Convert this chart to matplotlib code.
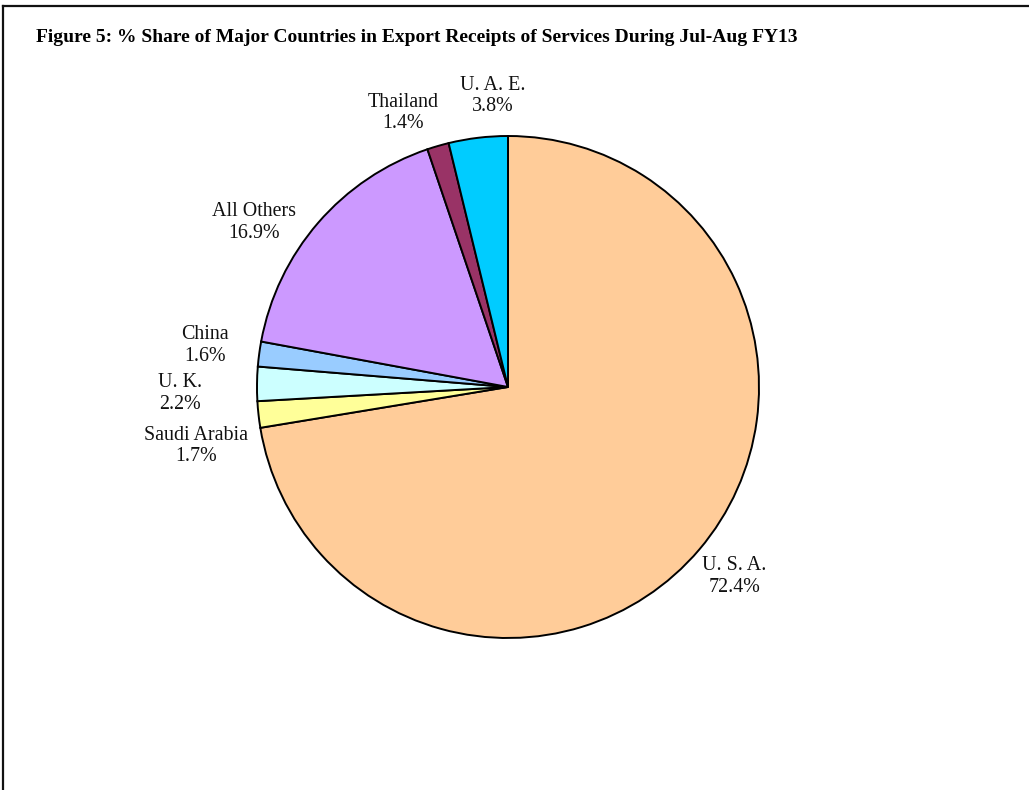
import numpy as np
import matplotlib.pyplot as plt
from matplotlib.lines import Line2D

countries = ['U. S. A.', 'Saudi Arabia', 'U. K.', 'China', 'All Others', 'Thailand', 'U. A. E.']
shares = [72.4, 1.7, 2.2, 1.6, 16.9, 1.4, 3.8]
colors = ['#FFCC99', '#FFFF99', '#CCFFFF', '#99CCFF', '#CC99FF', '#993366', '#00CCFF']
title = 'Figure 5: % Share of Major Countries in Export Receipts of Services During Jul-Aug FY13'

# label placement tweaks (distance from centre in radii, angle nudge in degrees)
label_dist = [1.176, 1.265, 1.307, 1.219, 1.207, 1.169, 1.161]
label_nudge = [0.3, 4.4, 1.9, -0.3, 7.9, 4.8, -3.9]

plt.rcParams['font.family'] = ['Liberation Serif', 'DejaVu Serif']

fig = plt.figure(figsize=(10.29, 7.9), dpi=100)
ax = fig.add_axes([0, 0, 1, 1])

cx, cy, r = 508, 403, 251
wedges, _ = ax.pie(shares, colors=colors, startangle=90, counterclock=False,
                   center=(cx, cy), radius=r, frame=True,
                   wedgeprops=dict(edgecolor='black', linewidth=1.4))
ax.set_xlim(0, 1029)
ax.set_ylim(0, 790)
ax.set_aspect('equal')
ax.axis('off')

for w, name, val, d, nd in zip(wedges, countries, shares, label_dist, label_nudge):
    ang = np.deg2rad((w.theta1 + w.theta2) / 2 + nd)
    x = cx + d * r * np.cos(ang)
    y = cy + d * r * np.sin(ang)
    ax.text(x, y, f'{name}\n{val:.1f}%', ha='center', va='center',
            fontsize=14.4, linespacing=1.2, color='#111111')

fig.text(36 / 1029, 1 - 38 / 790, title, fontsize=14, fontweight='bold',
         ha='left', va='center')

# outer frame (cut off at right and bottom)
fig.add_artist(Line2D([3 / 1029, 1.0], [1 - 6 / 790, 1 - 6 / 790], color='#111111', lw=1.6))
fig.add_artist(Line2D([3 / 1029, 3 / 1029], [0.0, 1 - 6 / 790], color='#111111', lw=1.6))

fig.savefig('out.png', dpi=100)
